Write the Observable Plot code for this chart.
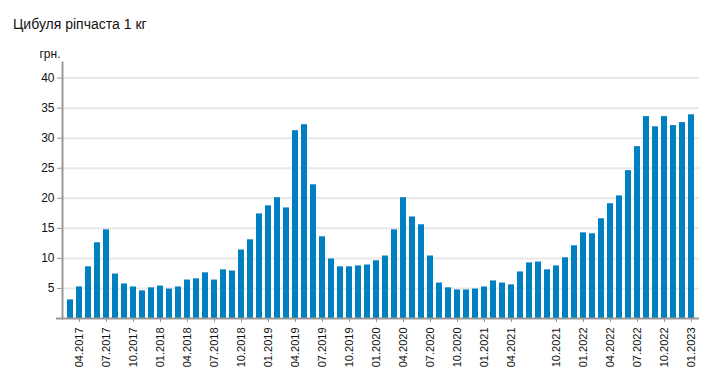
<!DOCTYPE html>
<html>
<head>
<meta charset="utf-8">
<script src="https://cdn.jsdelivr.net/npm/d3@7"></script>
<script src="https://cdn.jsdelivr.net/npm/@observablehq/plot@0.6"></script>
<style>
  html, body { margin: 0; padding: 0; background: white; }
  #title { height: 40px; box-sizing: border-box; padding: 16px 0 0 13px; font: 14px Arial, "Liberation Sans", sans-serif; color: #111; line-height: 16px; white-space: nowrap; }
  #chart svg { display: block; }
</style>
</head>
<body>
<div id="title">Цибуля ріпчаста 1 кг</div>
<div id="chart"></div>
<script>
const months = [
  "03.2017","04.2017","05.2017","06.2017","07.2017","08.2017","09.2017","10.2017","11.2017","12.2017",
  "01.2018","02.2018","03.2018","04.2018","05.2018","06.2018","07.2018","08.2018","09.2018","10.2018","11.2018","12.2018",
  "01.2019","02.2019","03.2019","04.2019","05.2019","06.2019","07.2019","08.2019","09.2019","10.2019","11.2019","12.2019",
  "01.2020","02.2020","03.2020","04.2020","05.2020","06.2020","07.2020","08.2020","09.2020","10.2020","11.2020","12.2020",
  "01.2021","02.2021","03.2021","04.2021","05.2021","06.2021","08.2021","09.2021","10.2021","11.2021","12.2021",
  "01.2022","02.2022","03.2022","04.2022","05.2022","06.2022","07.2022","08.2022","09.2022","10.2022","11.2022","12.2022",
  "01.2023"
];
const prices = [
  3.1, 5.25, 8.6, 12.6, 14.75, 7.4, 5.75, 5.25, 4.6, 5.1,
  5.4, 4.9, 5.25, 6.4, 6.6, 7.6, 6.4, 8.1, 7.9, 11.4, 13.1, 17.4,
  18.75, 20.1, 18.4, 31.25, 32.25, 22.25, 13.6, 9.9, 8.6, 8.6, 8.75, 8.9,
  9.6, 10.4, 14.75, 20.1, 16.9, 15.6, 10.4, 5.9, 5.1, 4.75, 4.75, 4.9,
  5.25, 6.25, 5.9, 5.6, 7.75, 9.25, 9.4, 8.1, 8.75, 10.1, 12.1,
  14.25, 14.1, 16.6, 19.1, 20.4, 24.6, 28.6, 33.6, 31.9, 33.6, 32.1, 32.6,
  33.9
];
const yTicks = [5, 10, 15, 20, 25, 30, 35, 40];
const xTicks = months.filter(m => ["01","04","07","10"].includes(m.slice(0, 2)));
const unitLabel = "грн.";

const data = months.map((m, i) => ({month: m, price: prices[i]}));

const chart = Plot.plot({
  width: 716,
  height: 344,
  marginLeft: 62,
  marginRight: 17,
  marginTop: 22,
  marginBottom: 66,
  style: {fontFamily: "Arial, 'Liberation Sans', sans-serif", fontSize: "11px", color: "#111", background: "white"},
  x: {type: "band", domain: months, paddingInner: 0.333, paddingOuter: 0.556, axis: null},
  y: {domain: [0, 42.6], axis: null},
  marks: [
    Plot.ruleY(yTicks, {stroke: "#e8e8e8", strokeWidth: 2}),
    Plot.barY(data, {x: "month", y: "price", fill: "#0080c0"}),
    Plot.axisY(yTicks, {tickSize: 5, stroke: "#999", tickPadding: 3, label: null, fontSize: 12}),
    Plot.axisX(xTicks, {tickRotate: -90, tickSize: 4, tickPadding: 5, label: null, stroke: "#999"}),
    Plot.ruleY([0], {stroke: "#999", strokeWidth: 2, insetLeft: -6}),
    Plot.frame({anchor: "left", stroke: "#999", strokeWidth: 2}),
    Plot.text([unitLabel], {frameAnchor: "top-left", text: d => d, textAnchor: "end", lineAnchor: "bottom", dx: -2, dy: -5, fontSize: 12})
  ]
});
document.getElementById("chart").appendChild(chart);
</script>
</body>
</html>
